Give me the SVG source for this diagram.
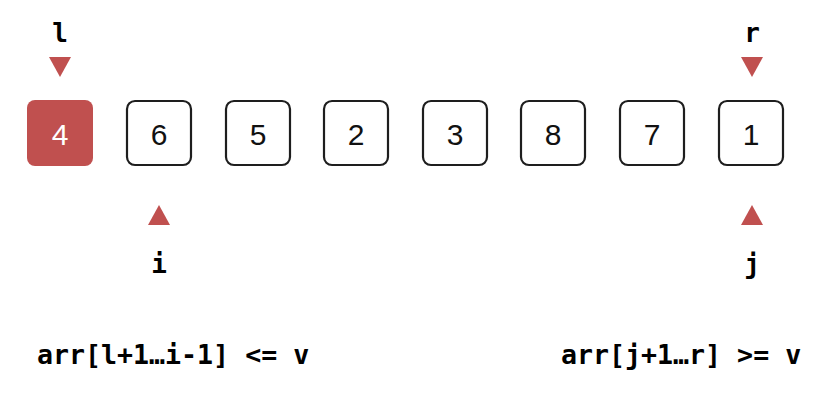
<svg xmlns="http://www.w3.org/2000/svg" width="828" height="401" viewBox="0 0 828 401">
<style>
.box{fill:#fff;stroke:#1e1e1e;stroke-width:2.2}
.hl{fill:#c0504f;stroke:none}
.num{font-family:"Liberation Sans",Arial,sans-serif;font-size:30px;text-anchor:middle;fill:#111}
.numw{fill:#fff}
.lab{font-family:"DejaVu Sans Mono","Liberation Mono",monospace;font-weight:bold;font-size:26px;fill:#000}
.note{font-size:26.6px}
.mid{text-anchor:middle}
.tri{fill:#c0504f}
</style>
<rect width="828" height="401" fill="#fff"/>
<g id="n0"><rect class="hl" x="27" y="100" width="66" height="66" rx="8"/><text class="num numw" x="60" y="145">4</text></g>
<g id="n1"><rect class="box" x="127" y="101" width="64" height="64" rx="8"/><text class="num" x="159" y="145">6</text></g>
<g id="n2"><rect class="box" x="226" y="101" width="64" height="64" rx="8"/><text class="num" x="258" y="145">5</text></g>
<g id="n3"><rect class="box" x="324" y="101" width="64" height="64" rx="8"/><text class="num" x="356" y="145">2</text></g>
<g id="n4"><rect class="box" x="423" y="101" width="64" height="64" rx="8"/><text class="num" x="455" y="145">3</text></g>
<g id="n5"><rect class="box" x="521" y="101" width="64" height="64" rx="8"/><text class="num" x="553" y="145">8</text></g>
<g id="n6"><rect class="box" x="620" y="101" width="64" height="64" rx="8"/><text class="num" x="652" y="145">7</text></g>
<g id="n7"><rect class="box" x="719" y="101" width="64" height="64" rx="8"/><text class="num" x="751" y="145">1</text></g>
<g id="pointers">
<g id="p-l"><text class="lab mid" x="60" y="42">l</text><polygon class="tri" points="49,57 71,57 60,77"/></g>
<g id="p-r"><text class="lab mid" x="752" y="42">r</text><polygon class="tri" points="741,57 763,57 752,77"/></g>
<g id="p-i"><polygon class="tri" points="148,225 170,225 159,205"/><text class="lab mid" x="159" y="273">i</text></g>
<g id="p-j"><polygon class="tri" points="741,225 763,225 752,205"/><text class="lab mid" x="752" y="273">j</text></g>
</g>
<g id="notes">
<text class="lab note" x="37" y="364">arr[l+1…i-1] &lt;= v</text>
<text class="lab note" x="561" y="364">arr[j+1…r] &gt;= v</text>
</g>
</svg>
